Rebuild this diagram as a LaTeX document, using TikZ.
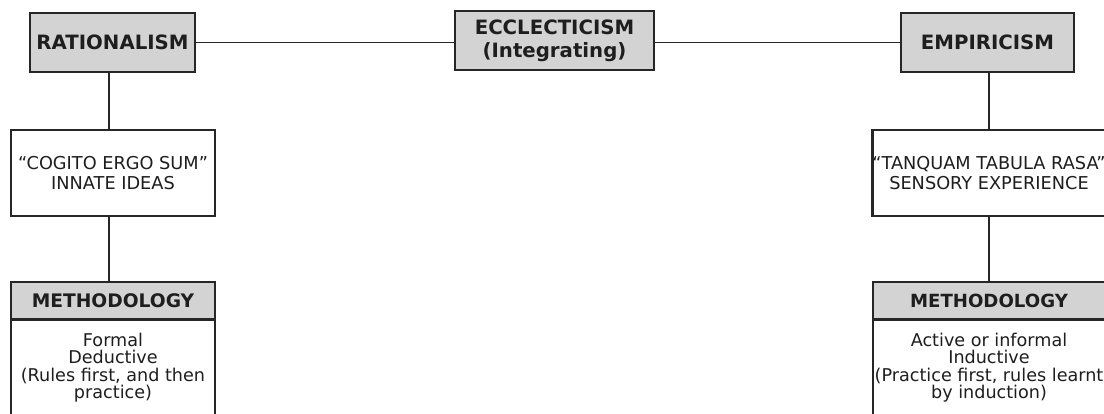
\documentclass[tikz,border=0pt]{standalone}
\usepackage{fontspec}
\setmainfont{DejaVu Sans}
\definecolor{boxgray}{HTML}{D3D3D3}
\definecolor{ink}{HTML}{262626}
\definecolor{txt}{HTML}{1E1E1E}

\begin{document}
\begin{tikzpicture}[x=0.75pt,y=-0.75pt,
  box/.style={draw=ink, line width=1.7pt, inner sep=0pt, text=txt},
  head/.style={box, fill=boxgray, font=\bfseries\fontsize{14.8}{17}\selectfont, align=center},
  plain/.style={box, fill=white, font=\fontsize{13.3}{15}\selectfont, align=center},
  body/.style={text=txt, font=\fontsize{13.2}{13.2}\selectfont, align=center, inner sep=0pt},
  link/.style={draw=ink, line width=1.4pt}]

\path[use as bounding box] (0,0) rectangle (1104,414);
\clip (0,0) rectangle (1104,414);

% top row
\node[head, minimum width=165*0.75pt, minimum height=59*0.75pt] (rat) at (112.5,42.5) {RATIONALISM};
\node[head, minimum width=199*0.75pt, minimum height=59*0.75pt] (ecc) at (554.5,40.5) {ECCLECTICISM\\(Integrating)};
\node[head, minimum width=173*0.75pt, minimum height=59*0.75pt] (emp) at (987.5,42.5) {EMPIRICISM};

% middle row
\node[plain, minimum width=204*0.75pt, minimum height=86*0.75pt] (cog) at (113,173) {“COGITO ERGO SUM”\\INNATE IDEAS};
\node[plain, minimum width=232*0.75pt, minimum height=86*0.75pt] (tab) at (989,173) {“TANQUAM TABULA RASA”\\SENSORY EXPERIENCE};

% methodology boxes
\node[box, fill=white, minimum width=204*0.75pt, minimum height=130*0.75pt, anchor=north] (lmb) at (113,319) {};
\node[box, fill=white, minimum width=232*0.75pt, minimum height=130*0.75pt, anchor=north] (rmb) at (989,319) {};
\node[head, font=\bfseries\fontsize{14}{17}\selectfont, minimum width=204*0.75pt, minimum height=37*0.75pt] (lmh) at (113,300.5) {METHODOLOGY};
\node[head, font=\bfseries\fontsize{13.6}{17}\selectfont, minimum width=232*0.75pt, minimum height=37*0.75pt] (rmh) at (989,300.5) {METHODOLOGY};
\node[body, anchor=north] (lmt) at (113,332.5) {Formal\\Deductive\\(Rules first, and then\\practice)};
\node[body, anchor=north] (rmt) at (989,332.5) {Active or informal\\Inductive\\(Practice first, rules learnt\\by induction)};

% connectors
\coordinate (lstem) at (109,0);
\coordinate (rstem) at (989,0);
\draw[link] (rat.east) -- (rat.east -| ecc.west);
\draw[link] (ecc.east |- emp.west) -- (emp.west);
\draw[link] (rat.south -| lstem) -- (cog.north -| lstem);
\draw[link] (cog.south -| lstem) -- (lmh.north -| lstem);
\draw[link] (emp.south -| rstem) -- (tab.north -| rstem);
\draw[link] (tab.south -| rstem) -- (rmh.north -| rstem);
\end{tikzpicture}
\end{document}
